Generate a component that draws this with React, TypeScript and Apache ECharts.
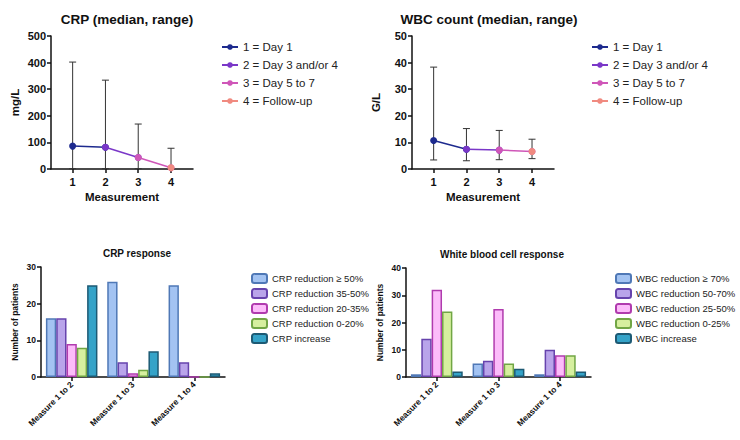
import React, { useEffect, useRef } from "react";
import * as echarts from "echarts";

const measurements = [1, 2, 3, 4];
const pointLabels = ["1 = Day 1", "2 = Day 3 and/or 4", "3 = Day 5 to 7", "4 = Follow-up"];
const pointColors = ["#1d2a8e", "#7a37c8", "#cf56b8", "#f08a80"];

const crpMedian = [86, 82, 43, 5];
const crpLow = [1, 1, 1, 0];
const crpHigh = [402, 334, 169, 78];

const wbcMedian = [10.7, 7.4, 7.1, 6.6];
const wbcLow = [3.4, 3.1, 3.5, 3.9];
const wbcHigh = [38.3, 15.2, 14.5, 11.2];

const responseCats = ["Measure 1 to 2", "Measure 1 to 3", "Measure 1 to 4"];

const crpRespNames = ["CRP reduction ≥ 50%", "CRP reduction 35-50%", "CRP reduction 20-35%", "CRP reduction 0-20%", "CRP increase"];
const crpResp = [
  [16, 26, 25],
  [16, 4, 4],
  [9, 1, 0],
  [8, 2, 0],
  [25, 7, 1],
];

const wbcRespNames = ["WBC reduction ≥ 70%", "WBC reduction 50-70%", "WBC reduction 25-50%", "WBC reduction 0-25%", "WBC increase"];
const wbcResp = [
  [1, 5, 1],
  [14, 6, 10],
  [32, 25, 8],
  [24, 5, 8],
  [2, 3, 2],
];

const barFill = ["#a3c3f2", "#b9a4ea", "#fcbcfa", "#d6ef9f", "#35a3c8"];
const barBorder = ["#4f78b6", "#6643ad", "#b03bae", "#71a645", "#1d5a74"];

const FONT = "Liberation Sans, Arial, sans-serif";

function errorSeries(xi: number, lows: number[], highs: number[]) {
  return {
    type: "custom",
    xAxisIndex: xi,
    yAxisIndex: xi,
    clip: false,
    z: 1,
    silent: true,
    data: measurements.map((m, i) => [m, lows[i], highs[i]]),
    renderItem: (params: any, api: any) => {
      const x = api.value(0);
      const lo = api.coord([x, api.value(1)]);
      const hi = api.coord([x, api.value(2)]);
      const cw = 3.5;
      const st = { stroke: "#333", lineWidth: 1 };
      return {
        type: "group",
        children: [
          { type: "line", shape: { x1: lo[0], y1: lo[1], x2: hi[0], y2: hi[1] }, style: st },
          { type: "line", shape: { x1: hi[0] - cw, y1: hi[1], x2: hi[0] + cw, y2: hi[1] }, style: st },
          { type: "line", shape: { x1: lo[0] - cw, y1: lo[1], x2: lo[0] + cw, y2: lo[1] }, style: st },
        ],
      };
    },
  };
}

function lineSeries(xi: number, medians: number[]) {
  return pointLabels.map((name, i) => ({
    type: "line",
    name,
    xAxisIndex: xi,
    yAxisIndex: xi,
    z: 3 + i,
    symbol: "circle",
    symbolSize: 7,
    lineStyle: { color: pointColors[i], width: 1.5 },
    itemStyle: { color: pointColors[i] },
    data: i < 3 ? [[measurements[i], medians[i]], [measurements[i + 1], medians[i + 1]]] : [[measurements[i], medians[i]]],
  }));
}

function barSeries(xi: number, names: string[], vals: number[][]) {
  return names.map((name, i) => ({
    type: "bar",
    name,
    xAxisIndex: xi,
    yAxisIndex: xi,
    barGap: "0%",
    barCategoryGap: "16%",
    itemStyle: { color: barFill[i], borderColor: barBorder[i], borderWidth: 1.5 },
    data: vals[i],
  }));
}

const axisLine = { show: true, lineStyle: { color: "#111", width: 1.5 } };
const axisTick = { show: true, length: 4, lineStyle: { color: "#111", width: 1.5 } };

export default function App() {
  const ref = useRef<HTMLDivElement>(null);
  useEffect(() => {
    document.body.style.margin = "0";
    const chart = echarts.init(ref.current!, undefined, { renderer: "svg" });
    const topX = () => ({
      type: "value",
      min: 0.34,
      max: 4.67,
      axisLine,
      axisTick: { ...axisTick, customValues: measurements },
      axisLabel: { customValues: measurements, color: "#111", fontWeight: "bold", fontSize: 11, fontFamily: FONT, margin: 7 },
      splitLine: { show: false },
      name: "Measurement",
      nameLocation: "middle",
      nameGap: 22,
      nameTextStyle: { color: "#111", fontWeight: "bold", fontSize: 11.5, fontFamily: FONT },
    });
    const topY = (max: number, interval: number, name: string) => ({
      type: "value",
      min: 0,
      max,
      interval,
      axisLine,
      axisTick,
      axisLabel: { color: "#111", fontWeight: "bold", fontSize: 11, fontFamily: FONT, margin: 5 },
      splitLine: { show: false },
      name,
      nameLocation: "middle",
      nameGap: 30,
      nameRotate: 90,
      nameTextStyle: { color: "#111", fontWeight: "bold", fontSize: 11.5, fontFamily: FONT },
    });
    const botX = () => ({
      type: "category",
      data: responseCats,
      axisLine,
      axisTick: { ...axisTick, alignWithLabel: true },
      axisLabel: { color: "#111", fontWeight: "bold", fontSize: 8.5, fontFamily: FONT, rotate: 45, margin: 6, interval: 0 },
    });
    const botY = (max: number) => ({
      type: "value",
      min: 0,
      max,
      interval: 10,
      axisLine,
      axisTick,
      axisLabel: { color: "#111", fontWeight: "bold", fontSize: 8.5, fontFamily: FONT, margin: 5 },
      splitLine: { show: false },
      name: "Number of patients",
      nameLocation: "middle",
      nameGap: 22,
      nameRotate: 90,
      nameTextStyle: { color: "#111", fontWeight: "bold", fontSize: 8.5, fontFamily: FONT },
    });
    const titleStyle = (size: number) => ({ color: "#111", fontWeight: "bold", fontSize: size, fontFamily: FONT });
    chart.setOption({
      animation: false,
      backgroundColor: "#fff",
      title: [
        { text: "CRP (median, range)", left: 122, top: 7, textAlign: "center", textStyle: titleStyle(13.5) },
        { text: "WBC count (median, range)", left: 484, top: 7, textAlign: "center", textStyle: titleStyle(13.5) },
        { text: "CRP response", left: 132, top: 243, textAlign: "center", textStyle: titleStyle(10) },
        { text: "White blood cell response", left: 497, top: 244, textAlign: "center", textStyle: titleStyle(10) },
      ],
      legend: [
        {
          data: pointLabels.map((n) => ({ name: n })),
          left: 216, top: 36, orient: "vertical", itemGap: 6, itemWidth: 16, itemHeight: 7,
          textStyle: { fontSize: 11.5, color: "#222", fontFamily: FONT },
          selectedMode: false,
        },
        {
          data: pointLabels.map((n) => ({ name: n })),
          left: 586, top: 36, orient: "vertical", itemGap: 6, itemWidth: 16, itemHeight: 7,
          textStyle: { fontSize: 11.5, color: "#222", fontFamily: FONT },
          selectedMode: false,
        },
        {
          data: crpRespNames, left: 246, top: 268, orient: "vertical", itemGap: 4, itemWidth: 15, itemHeight: 9,
          textStyle: { fontSize: 9.5, color: "#222", fontFamily: FONT }, selectedMode: false,
        },
        {
          data: wbcRespNames, left: 610, top: 268, orient: "vertical", itemGap: 4, itemWidth: 15, itemHeight: 9,
          textStyle: { fontSize: 9.5, color: "#222", fontFamily: FONT }, selectedMode: false,
        },
      ],
      grid: [
        { left: 51, top: 36, width: 142, height: 133 },
        { left: 412, top: 36, width: 142, height: 133 },
        { left: 41, top: 267, width: 184, height: 110 },
        { left: 406, top: 268, width: 185, height: 109 },
      ],
      xAxis: [
        { ...topX(), gridIndex: 0 },
        { ...topX(), gridIndex: 1 },
        { ...botX(), gridIndex: 2 },
        { ...botX(), gridIndex: 3 },
      ],
      yAxis: [
        { ...topY(500, 100, "mg/L"), gridIndex: 0 },
        { ...topY(50, 10, "G/L"), gridIndex: 1 },
        { ...botY(30), gridIndex: 2 },
        { ...botY(40), gridIndex: 3 },
      ],
      series: [
        errorSeries(0, crpLow, crpHigh),
        ...lineSeries(0, crpMedian),
        errorSeries(1, wbcLow, wbcHigh),
        ...lineSeries(1, wbcMedian),
        ...barSeries(2, crpRespNames, crpResp),
        ...barSeries(3, wbcRespNames, wbcResp),
      ],
    } as any);
    return () => chart.dispose();
  }, []);
  return <div ref={ref} style={{ width: 740, height: 440 }} />;
}
